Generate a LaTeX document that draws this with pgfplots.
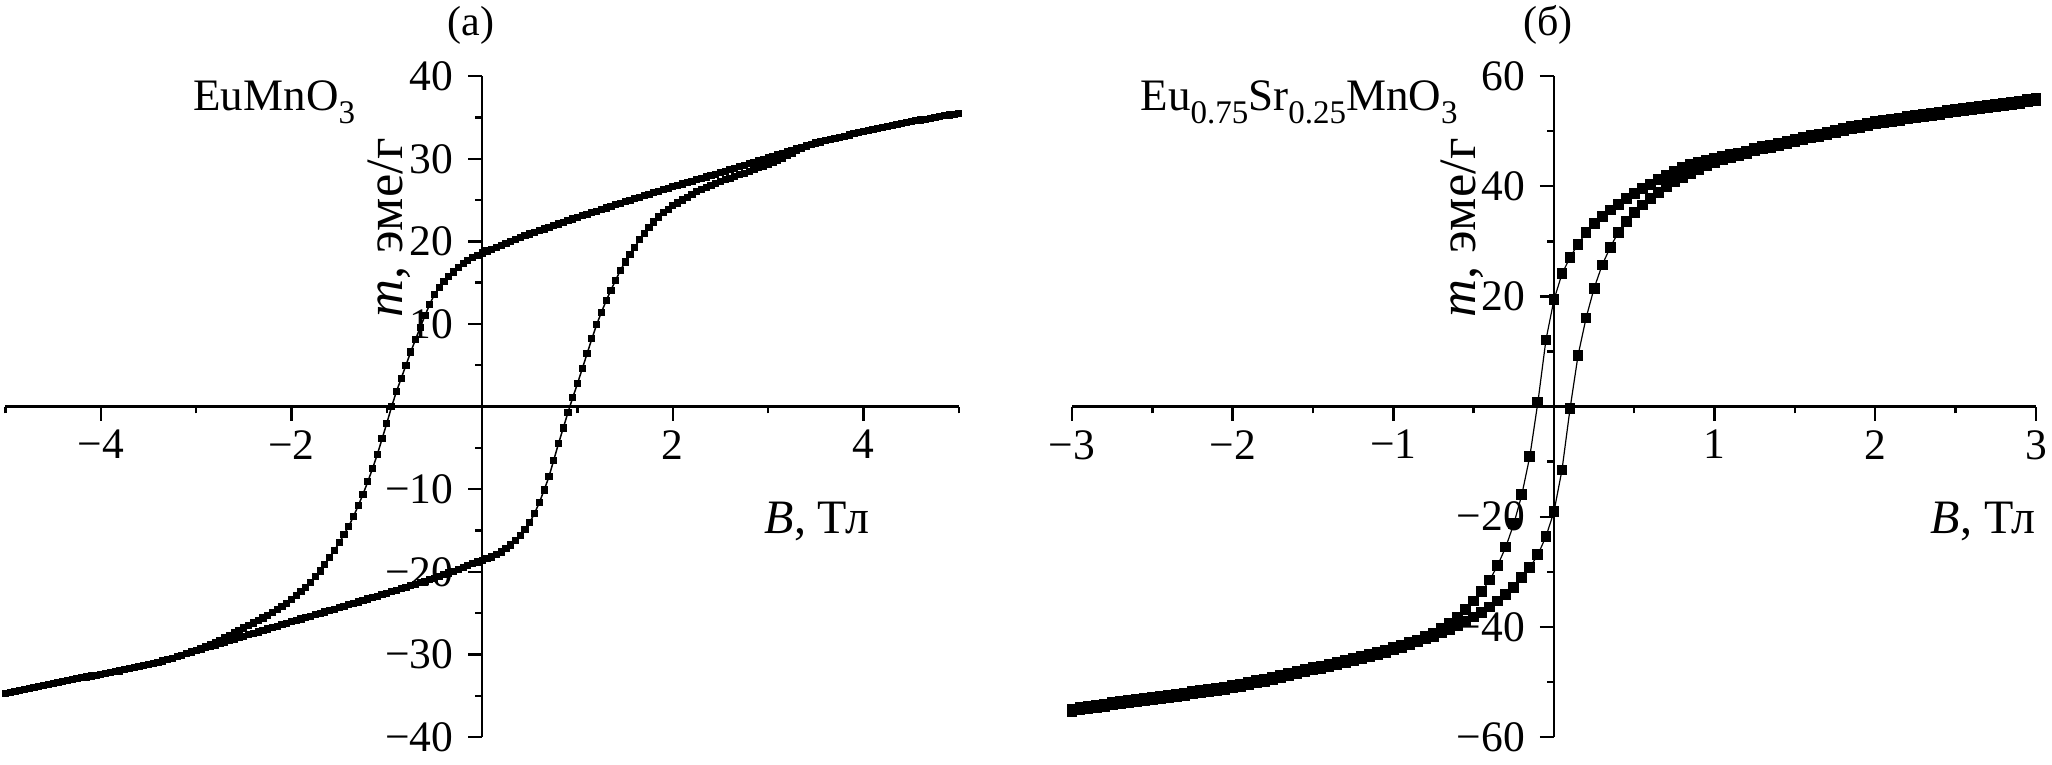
\documentclass[border=0pt]{standalone}
\usepackage{fontspec}
\setmainfont{Liberation Serif}
\usepackage{pgfplots}
\pgfplotsset{compat=1.18}
\usepackage{pgfplotstable}

\pgfplotstableread[row sep=\\]{x y\\
5.00 35.5\\ 4.95 35.4\\ 4.90 35.3\\ 4.85 35.2\\ 4.80 35.1\\ 4.75 35.0\\ 4.70 34.9\\ 4.65 34.8\\ 4.60 34.7\\ 4.55 34.6\\
4.50 34.5\\ 4.45 34.38\\ 4.40 34.26\\ 4.35 34.14\\ 4.30 34.02\\ 4.25 33.9\\ 4.20 33.78\\ 4.15 33.66\\ 4.10 33.54\\ 4.05 33.42\\
4.00 33.3\\ 3.95 33.16\\ 3.90 33.02\\ 3.85 32.88\\ 3.80 32.74\\ 3.75 32.6\\ 3.70 32.46\\ 3.65 32.32\\ 3.60 32.18\\ 3.55 32.04\\
3.50 31.9\\ 3.45 31.72\\ 3.40 31.54\\ 3.35 31.36\\ 3.30 31.18\\ 3.25 31.0\\ 3.20 30.82\\ 3.15 30.64\\ 3.10 30.46\\ 3.05 30.28\\
3.00 30.1\\ 2.95 29.92\\ 2.90 29.74\\ 2.85 29.56\\ 2.80 29.38\\ 2.75 29.2\\ 2.70 29.02\\ 2.65 28.84\\ 2.60 28.66\\ 2.55 28.48\\
2.50 28.3\\ 2.45 28.13\\ 2.40 27.96\\ 2.35 27.79\\ 2.30 27.62\\ 2.25 27.45\\ 2.20 27.28\\ 2.15 27.11\\ 2.10 26.94\\ 2.05 26.77\\
2.00 26.6\\ 1.95 26.42\\ 1.90 26.24\\ 1.85 26.06\\ 1.80 25.88\\ 1.75 25.7\\ 1.70 25.52\\ 1.65 25.34\\ 1.60 25.16\\ 1.55 24.98\\
1.50 24.8\\ 1.45 24.61\\ 1.40 24.42\\ 1.35 24.23\\ 1.30 24.04\\ 1.25 23.85\\ 1.20 23.66\\ 1.15 23.47\\ 1.10 23.28\\ 1.05 23.09\\
1.00 22.9\\ 0.95 22.7\\ 0.90 22.5\\ 0.85 22.3\\ 0.80 22.1\\ 0.75 21.9\\ 0.70 21.7\\ 0.65 21.5\\ 0.60 21.3\\ 0.55 21.1\\
0.50 20.9\\ 0.45 20.67\\ 0.40 20.44\\ 0.35 20.21\\ 0.30 19.98\\ 0.25 19.75\\ 0.20 19.52\\ 0.15 19.29\\ 0.10 19.06\\ 0.05 18.83\\
0.00 18.6\\ -0.05 18.3\\ -0.10 18.0\\ -0.15 17.7\\ -0.20 17.3\\ -0.25 16.8\\ -0.30 16.3\\ -0.35 15.7\\ -0.40 15.1\\ -0.45 14.4\\
-0.50 13.6\\ -0.55 12.4\\ -0.60 11.0\\ -0.65 9.6\\ -0.70 8.1\\ -0.75 6.6\\ -0.80 5.0\\ -0.85 3.4\\ -0.90 1.8\\ -0.95 0.0\\
-1.00 -2.0\\ -1.05 -3.9\\ -1.10 -5.8\\ -1.15 -7.5\\ -1.20 -9.1\\ -1.25 -10.6\\ -1.30 -12.0\\ -1.35 -13.3\\ -1.40 -14.5\\ -1.45 -15.5\\
-1.50 -16.5\\ -1.55 -17.4\\ -1.60 -18.3\\ -1.65 -19.1\\ -1.70 -19.9\\ -1.75 -20.6\\ -1.80 -21.3\\ -1.85 -21.9\\ -1.90 -22.4\\ -1.95 -22.9\\
-2.00 -23.4\\ -2.05 -23.8\\ -2.10 -24.2\\ -2.15 -24.6\\ -2.20 -24.9\\ -2.25 -25.25\\ -2.30 -25.6\\ -2.35 -25.9\\ -2.40 -26.2\\ -2.45 -26.5\\
-2.50 -26.8\\ -2.55 -27.1\\ -2.60 -27.4\\ -2.65 -27.7\\ -2.70 -28.0\\ -2.75 -28.3\\ -2.80 -28.55\\ -2.85 -28.8\\ -2.90 -29.05\\ -2.95 -29.3\\
-3.00 -29.5\\ -3.05 -29.7\\ -3.10 -29.9\\ -3.15 -30.1\\ -3.20 -30.3\\ -3.25 -30.5\\ -3.30 -30.65\\ -3.35 -30.8\\ -3.40 -31.0\\ -3.45 -31.12\\
-3.50 -31.25\\ -3.55 -31.37\\ -3.60 -31.5\\ -3.65 -31.62\\ -3.70 -31.75\\ -3.75 -31.87\\ -3.80 -32.0\\ -3.85 -32.1\\ -3.90 -32.2\\ -3.95 -32.3\\
-4.00 -32.4\\ -4.05 -32.51\\ -4.10 -32.62\\ -4.15 -32.73\\ -4.20 -32.84\\ -4.25 -32.95\\ -4.30 -33.06\\ -4.35 -33.17\\ -4.40 -33.28\\ -4.45 -33.39\\
-4.50 -33.5\\ -4.55 -33.62\\ -4.60 -33.74\\ -4.65 -33.86\\ -4.70 -33.98\\ -4.75 -34.1\\ -4.80 -34.22\\ -4.85 -34.34\\ -4.90 -34.46\\ -4.95 -34.58\\
-5.00 -34.7\\
}\leftdown

\pgfplotstableread[row sep=\\]{x y\\
-5.00 -34.7\\ -4.95 -34.58\\ -4.90 -34.46\\ -4.85 -34.34\\ -4.80 -34.22\\ -4.75 -34.1\\ -4.70 -33.98\\ -4.65 -33.86\\ -4.60 -33.74\\ -4.55 -33.62\\
-4.50 -33.5\\ -4.45 -33.39\\ -4.40 -33.28\\ -4.35 -33.17\\ -4.30 -33.06\\ -4.25 -32.95\\ -4.20 -32.84\\ -4.15 -32.73\\ -4.10 -32.62\\ -4.05 -32.51\\
-4.00 -32.4\\ -3.95 -32.3\\ -3.90 -32.2\\ -3.85 -32.1\\ -3.80 -32.0\\ -3.75 -31.87\\ -3.70 -31.75\\ -3.65 -31.62\\ -3.60 -31.5\\ -3.55 -31.37\\
-3.50 -31.25\\ -3.45 -31.12\\ -3.40 -31.0\\ -3.35 -30.82\\ -3.30 -30.64\\ -3.25 -30.46\\ -3.20 -30.28\\ -3.15 -30.1\\ -3.10 -29.92\\ -3.05 -29.73\\
-3.00 -29.55\\ -2.95 -29.38\\ -2.90 -29.2\\ -2.85 -29.03\\ -2.80 -28.85\\ -2.75 -28.68\\ -2.70 -28.5\\ -2.65 -28.33\\ -2.60 -28.15\\ -2.55 -27.98\\
-2.50 -27.8\\ -2.45 -27.63\\ -2.40 -27.45\\ -2.35 -27.28\\ -2.30 -27.1\\ -2.25 -26.93\\ -2.20 -26.75\\ -2.15 -26.58\\ -2.10 -26.4\\ -2.05 -26.23\\
-2.00 -26.05\\ -1.95 -25.88\\ -1.90 -25.71\\ -1.85 -25.54\\ -1.80 -25.37\\ -1.75 -25.2\\ -1.70 -25.03\\ -1.65 -24.86\\ -1.60 -24.69\\ -1.55 -24.52\\
-1.50 -24.35\\ -1.45 -24.18\\ -1.40 -24.0\\ -1.35 -23.83\\ -1.30 -23.65\\ -1.25 -23.48\\ -1.20 -23.3\\ -1.15 -23.13\\ -1.10 -22.95\\ -1.05 -22.78\\
-1.00 -22.6\\ -0.95 -22.42\\ -0.90 -22.24\\ -0.85 -22.06\\ -0.80 -21.88\\ -0.75 -21.7\\ -0.70 -21.52\\ -0.65 -21.34\\ -0.60 -21.16\\ -0.55 -20.98\\
-0.50 -20.8\\ -0.45 -20.58\\ -0.40 -20.36\\ -0.35 -20.14\\ -0.30 -19.92\\ -0.25 -19.7\\ -0.20 -19.48\\ -0.15 -19.26\\ -0.10 -19.04\\ -0.05 -18.82\\
0.00 -18.6\\ 0.05 -18.42\\ 0.10 -18.22\\ 0.15 -17.95\\ 0.20 -17.6\\ 0.25 -17.2\\ 0.30 -16.75\\ 0.35 -16.25\\ 0.40 -15.6\\ 0.45 -14.9\\
0.50 -14.0\\ 0.55 -12.9\\ 0.60 -11.6\\ 0.65 -10.1\\ 0.70 -8.5\\ 0.75 -6.5\\ 0.80 -4.5\\ 0.85 -2.6\\ 0.90 -0.7\\ 0.95 1.1\\
1.00 2.8\\ 1.05 4.6\\ 1.10 6.4\\ 1.15 8.2\\ 1.20 9.9\\ 1.25 11.4\\ 1.30 12.8\\ 1.35 14.1\\ 1.40 15.3\\ 1.45 16.5\\
1.50 17.5\\ 1.55 18.4\\ 1.60 19.3\\ 1.65 20.2\\ 1.70 21.0\\ 1.75 21.7\\ 1.80 22.35\\ 1.85 22.95\\ 1.90 23.45\\ 1.95 23.9\\
2.00 24.3\\ 2.05 24.65\\ 2.10 25.0\\ 2.15 25.35\\ 2.20 25.7\\ 2.25 26.0\\ 2.30 26.25\\ 2.35 26.5\\ 2.40 26.75\\ 2.45 27.0\\
2.50 27.2\\ 2.55 27.45\\ 2.60 27.65\\ 2.65 27.85\\ 2.70 28.05\\ 2.75 28.25\\ 2.80 28.5\\ 2.85 28.7\\ 2.90 28.9\\ 2.95 29.1\\
3.00 29.3\\ 3.05 29.55\\ 3.10 29.8\\ 3.15 30.1\\ 3.20 30.4\\ 3.25 30.7\\ 3.30 31.0\\ 3.35 31.3\\ 3.40 31.54\\ 3.45 31.72\\
3.50 31.9\\ 3.55 32.04\\ 3.60 32.18\\ 3.65 32.32\\ 3.70 32.46\\ 3.75 32.6\\ 3.80 32.74\\ 3.85 32.88\\ 3.90 33.02\\ 3.95 33.16\\
4.00 33.3\\ 4.05 33.42\\ 4.10 33.54\\ 4.15 33.66\\ 4.20 33.78\\ 4.25 33.9\\ 4.30 34.02\\ 4.35 34.14\\ 4.40 34.26\\ 4.45 34.38\\
4.50 34.5\\ 4.55 34.6\\ 4.60 34.7\\ 4.65 34.8\\ 4.70 34.9\\ 4.75 35.0\\ 4.80 35.1\\ 4.85 35.2\\ 4.90 35.3\\ 4.95 35.4\\
5.00 35.5\\
}\leftup

\pgfplotstableread[row sep=\\]{x y\\
3.00 55.9\\ 2.95 55.7\\ 2.90 55.5\\ 2.85 55.3\\ 2.80 55.1\\ 2.75 54.9\\ 2.70 54.7\\ 2.65 54.5\\ 2.60 54.3\\ 2.55 54.1\\
2.50 53.9\\ 2.45 53.7\\ 2.40 53.5\\ 2.35 53.25\\ 2.30 53.05\\ 2.25 52.85\\ 2.20 52.62\\ 2.15 52.39\\ 2.10 52.16\\ 2.05 51.93\\
2.00 51.7\\ 1.95 51.4\\ 1.90 51.1\\ 1.85 50.8\\ 1.80 50.45\\ 1.75 50.15\\ 1.70 49.85\\ 1.65 49.5\\ 1.60 49.2\\ 1.55 48.85\\
1.50 48.5\\ 1.45 48.2\\ 1.40 47.85\\ 1.35 47.5\\ 1.30 47.15\\ 1.25 46.8\\ 1.20 46.4\\ 1.15 46.05\\ 1.10 45.7\\ 1.05 45.35\\
1.00 45.0\\ 0.95 44.7\\ 0.90 44.35\\ 0.85 43.9\\ 0.80 43.4\\ 0.75 42.7\\ 0.70 42.0\\ 0.65 41.2\\ 0.60 40.3\\ 0.55 39.6\\
0.50 38.7\\ 0.45 37.8\\ 0.40 36.7\\ 0.35 35.7\\ 0.30 34.5\\ 0.25 33.2\\ 0.20 31.6\\ 0.15 29.5\\ 0.10 27.1\\ 0.05 24.1\\
0.00 19.4\\ -0.05 12.1\\ -0.10 0.8\\ -0.15 -9.0\\ -0.20 -16.0\\ -0.25 -21.3\\ -0.30 -25.5\\ -0.35 -28.8\\ -0.40 -31.5\\ -0.45 -33.6\\
-0.50 -35.3\\ -0.55 -36.8\\ -0.60 -38.2\\ -0.65 -39.3\\ -0.70 -40.3\\ -0.75 -41.1\\ -0.80 -41.8\\ -0.85 -42.4\\ -0.90 -42.9\\ -0.95 -43.35\\
-1.00 -43.8\\ -1.05 -44.2\\ -1.10 -44.6\\ -1.15 -45.0\\ -1.20 -45.35\\ -1.25 -45.7\\ -1.30 -46.05\\ -1.35 -46.4\\ -1.40 -46.75\\ -1.45 -47.1\\
-1.50 -47.4\\ -1.55 -47.75\\ -1.60 -48.1\\ -1.65 -48.45\\ -1.70 -48.8\\ -1.75 -49.1\\ -1.80 -49.45\\ -1.85 -49.8\\ -1.90 -50.1\\ -1.95 -50.4\\
-2.00 -50.7\\ -2.05 -50.92\\ -2.10 -51.14\\ -2.15 -51.36\\ -2.20 -51.58\\ -2.25 -51.8\\ -2.30 -52.0\\ -2.35 -52.2\\ -2.40 -52.4\\ -2.45 -52.6\\
-2.50 -52.8\\ -2.55 -53.0\\ -2.60 -53.2\\ -2.65 -53.4\\ -2.70 -53.6\\ -2.75 -53.8\\ -2.80 -54.0\\ -2.85 -54.2\\ -2.90 -54.4\\ -2.95 -54.65\\
-3.00 -54.9\\
}\rightdown

\pgfplotstableread[row sep=\\]{x y\\
-3.00 -55.3\\ -2.95 -55.05\\ -2.90 -54.8\\ -2.85 -54.6\\ -2.80 -54.4\\ -2.75 -54.2\\ -2.70 -54.0\\ -2.65 -53.8\\ -2.60 -53.6\\ -2.55 -53.4\\
-2.50 -53.2\\ -2.45 -53.0\\ -2.40 -52.8\\ -2.35 -52.6\\ -2.30 -52.4\\ -2.25 -52.2\\ -2.20 -51.98\\ -2.15 -51.76\\ -2.10 -51.54\\ -2.05 -51.32\\
-2.00 -51.1\\ -1.95 -50.8\\ -1.90 -50.5\\ -1.85 -50.2\\ -1.80 -49.85\\ -1.75 -49.5\\ -1.70 -49.2\\ -1.65 -48.85\\ -1.60 -48.5\\ -1.55 -48.15\\
-1.50 -47.8\\ -1.45 -47.5\\ -1.40 -47.15\\ -1.35 -46.8\\ -1.30 -46.45\\ -1.25 -46.1\\ -1.20 -45.75\\ -1.15 -45.4\\ -1.10 -45.0\\ -1.05 -44.6\\
-1.00 -44.2\\ -0.95 -43.7\\ -0.90 -43.2\\ -0.85 -42.7\\ -0.80 -42.2\\ -0.75 -41.7\\ -0.70 -41.1\\ -0.65 -40.5\\ -0.60 -39.8\\ -0.55 -39.0\\
-0.50 -38.2\\ -0.45 -37.4\\ -0.40 -36.4\\ -0.35 -35.3\\ -0.30 -34.1\\ -0.25 -32.8\\ -0.20 -31.1\\ -0.15 -29.2\\ -0.10 -26.9\\ -0.05 -23.6\\
0.00 -19.1\\ 0.05 -11.5\\ 0.10 -0.4\\ 0.15 9.3\\ 0.20 16.1\\ 0.25 21.5\\ 0.30 25.7\\ 0.35 28.9\\ 0.40 31.6\\ 0.45 33.6\\
0.50 35.2\\ 0.55 36.6\\ 0.60 37.8\\ 0.65 38.8\\ 0.70 39.9\\ 0.75 40.8\\ 0.80 41.6\\ 0.85 42.3\\ 0.90 43.1\\ 0.95 43.7\\
1.00 44.3\\ 1.05 44.8\\ 1.10 45.25\\ 1.15 45.65\\ 1.20 46.0\\ 1.25 46.4\\ 1.30 46.75\\ 1.35 47.1\\ 1.40 47.45\\ 1.45 47.8\\
1.50 48.1\\ 1.55 48.45\\ 1.60 48.8\\ 1.65 49.1\\ 1.70 49.45\\ 1.75 49.75\\ 1.80 50.05\\ 1.85 50.4\\ 1.90 50.7\\ 1.95 51.0\\
2.00 51.3\\ 2.05 51.53\\ 2.10 51.76\\ 2.15 51.99\\ 2.20 52.22\\ 2.25 52.45\\ 2.30 52.65\\ 2.35 52.85\\ 2.40 53.1\\ 2.45 53.3\\
2.50 53.5\\ 2.55 53.7\\ 2.60 53.9\\ 2.65 54.1\\ 2.70 54.3\\ 2.75 54.5\\ 2.80 54.7\\ 2.85 54.9\\ 2.90 55.1\\ 2.95 55.3\\
3.00 55.5\\
}\rightup

\newcommand\sub[1]{\raisebox{-0.28em}{\fontsize{11}{12}\selectfont #1}}

\pgfplotsset{
  hyst/.style={
    axis lines=middle,
    axis line style={-, line width=0.8pt},
    every tick/.style={black, line width=0.8pt},
    tick align=outside,
    major tick length=4.7pt,
    minor tick length=2.3pt,
    scale only axis,
    enlargelimits=false,
    clip=false,
    anchor=south west,
    height=220.3pt,
    tick label style={font=\fontsize{14.5}{16}\selectfont, inner sep=0pt},
    xticklabel style={anchor=north, yshift=-3pt},
    yticklabel style={anchor=east, xshift=-4.8pt},
  },
}

\begin{document}
\fontsize{14}{16}\selectfont
\begin{tikzpicture}
\path[use as bounding box] (0,0) rectangle (684pt,254.67pt);

\begin{axis}[hyst,
  at={(1.83pt,9pt)}, width=317.8pt,
  xmin=-5, xmax=5, ymin=-40, ymax=40,
  xtick={-4,-2,2,4}, xticklabels={−4,−2,2,4},
  minor xtick={-5,-3,-1,1,3,5},
  ytick={-40,-30,-20,-10,10,20,30,40},
  yticklabels={−40,−30,−20,−10,10,20,30,40},
  minor ytick={-35,-25,-15,-5,5,15,25,35},
]
\addplot[black, line width=0.5pt, mark=square*, mark size=0.95pt] table {\leftdown};
\addplot[black, line width=0.5pt, mark=square*, mark size=0.95pt] table {\leftup};
\end{axis}

\begin{axis}[hyst,
  at={(357.33pt,9pt)}, width=321.3pt,
  xmin=-3, xmax=3, ymin=-60, ymax=60,
  xtick={-3,-2,-1,1,2,3}, xticklabels={−3,−2,−1,1,2,3},
  minor xtick={-2.5,-1.5,-0.5,0.5,1.5,2.5},
  ytick={-60,-40,-20,20,40,60},
  yticklabels={−60,−40,−20,20,40,60},
  minor ytick={-50,-30,-10,10,30,50},
]
\addplot[black, line width=0.4pt, mark=square*, mark size=1.6pt] table {\rightdown};
\addplot[black, line width=0.4pt, mark=square*, mark size=1.6pt] table {\rightup};
\end{axis}

\node at (157pt,246.3pt) {(a)};
\node at (516pt,246.3pt) {(б)};
\node[anchor=base west, inner sep=0pt, font=\fontsize{15}{17}\selectfont] at (64.3pt,217.7pt) {EuMnO\sub{3}};
\node[anchor=base west, inner sep=0pt, font=\fontsize{15}{17}\selectfont] at (380pt,217.7pt) {Eu\sub{0.75}Sr\sub{0.25}MnO\sub{3}};
\node[anchor=west, inner sep=0pt, font=\fontsize{16}{18}\selectfont] at (254.7pt,81pt) {\textit{B}, Тл};
\node[anchor=east, inner sep=0pt, font=\fontsize{16}{18}\selectfont] at (678.5pt,81pt) {\textit{B}, Тл};
\node[rotate=90, font=\fontsize{17.5}{19}\selectfont] at (129.7pt,178.7pt) {\textit{m}, эме/г};
\node[rotate=90, font=\fontsize{17.5}{19}\selectfont] at (487.3pt,178.7pt) {\textit{m}, эме/г};
\end{tikzpicture}
\end{document}
